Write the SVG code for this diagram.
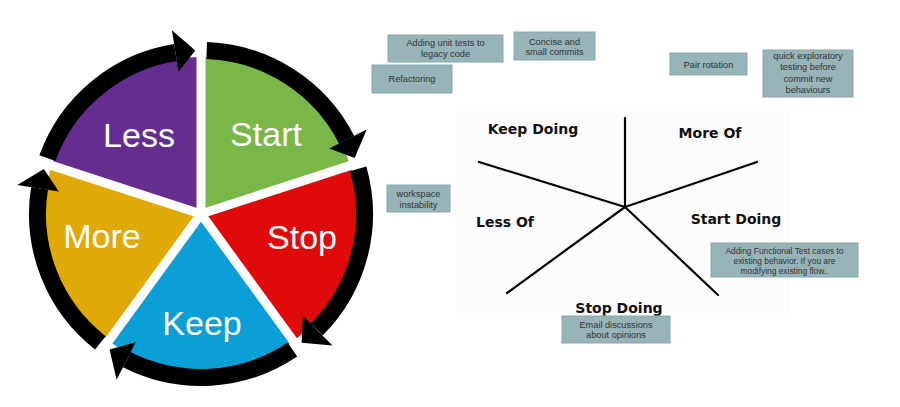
<svg xmlns="http://www.w3.org/2000/svg" width="900" height="407" viewBox="0 0 900 407">
<style>
.wl{font-family:"Liberation Sans",Arial,sans-serif;font-size:34px;fill:#fff;text-anchor:middle}
.sl{font-family:"DejaVu Sans",Verdana,sans-serif;font-weight:bold;font-size:14px;fill:#111;text-anchor:middle}
.nt{font-family:"Liberation Sans",Arial,sans-serif;font-size:9.2px;fill:#333;text-anchor:middle}
.nb{fill:#97b4b9;stroke:#8aa7ac;stroke-width:1}
.ring{fill:none;stroke:#000;stroke-width:17}
.gap{stroke:#fff;stroke-width:9}
.axis{stroke:#000;stroke-width:2.2;stroke-linecap:round}
</style>
<rect width="900" height="407" fill="#fff"/>
<g id="wheel">
  <g id="wedge-less"><path d="M201,214 L51.68,165.49 A157,157 0 0 1 201,57 Z" fill="#662d91"/><text class="wl" x="139" y="147">Less</text></g>
  <g id="wedge-start"><path d="M201,214 L201,57 A157,157 0 0 1 350.32,165.49 Z" fill="#7ab648"/><text class="wl" x="266" y="146">Start</text></g>
  <g id="wedge-stop"><path d="M201,214 L350.32,165.49 A157,157 0 0 1 293.28,341.01 Z" fill="#e00a0a"/><text class="wl" x="302" y="249">Stop</text></g>
  <g id="wedge-keep"><path d="M201,214 L293.28,341.01 A157,157 0 0 1 108.72,341.01 Z" fill="#0b9fd8"/><text class="wl" x="202" y="335">Keep</text></g>
  <g id="wedge-more"><path d="M201,214 L108.72,341.01 A157,157 0 0 1 51.68,165.49 Z" fill="#e1a906"/><text class="wl" x="102" y="248">More</text></g>
  <g id="gaps">
    <line class="gap" x1="201" y1="214" x2="201" y2="55"/>
    <line class="gap" x1="201" y1="214" x2="352.2" y2="164.9"/>
    <line class="gap" x1="201" y1="214" x2="294.5" y2="342.6"/>
    <line class="gap" x1="201" y1="214" x2="107.5" y2="342.6"/>
    <line class="gap" x1="201" y1="214" x2="49.8" y2="164.9"/>
  </g>
</g>
<g id="connectors">
  <path class="ring" d="M47.36,158.08 A163.5,163.5 0 0 1 175.43,52.51"/>
  <polygon points="171.9,30.3 195.29,50.6 178.5,71.8"/>
  <path class="ring" d="M206.71,50.6 A163.5,163.5 0 0 1 346.68,139.77"/>
  <polygon points="366.7,129.6 354.64,158.08 329.3,148.6"/>
  <path class="ring" d="M358.17,168.94 A163.5,163.5 0 0 1 316.61,329.61"/>
  <polygon points="332.5,345.5 301.67,342.84 302.8,315.8"/>
  <path class="ring" d="M292.43,349.54 A163.5,163.5 0 0 1 126.77,359.68"/>
  <polygon points="116.6,379.7 109.57,349.54 135.6,342.3"/>
  <path class="ring" d="M100.33,342.84 A163.5,163.5 0 0 1 39.51,188.43"/>
  <polygon points="17.3,184.9 43.83,168.94 58.8,191.5"/>
  <g id="star-axes">
    <rect x="456" y="106" width="334" height="212" fill="#fcfcfc"/>
    <line class="axis" x1="625" y1="207" x2="625" y2="118"/>
    <line class="axis" x1="625" y1="207" x2="479" y2="162"/>
    <line class="axis" x1="625" y1="207" x2="757" y2="162"/>
    <line class="axis" x1="625" y1="207" x2="507" y2="293"/>
    <line class="axis" x1="625" y1="207" x2="718" y2="295"/>
  </g>
</g>
<g id="label-keep-doing"><text class="sl" x="533" y="134">Keep Doing</text></g>
<g id="label-more-of"><text class="sl" x="710" y="138">More Of</text></g>
<g id="label-less-of"><text class="sl" x="505" y="227">Less Of</text></g>
<g id="label-start-doing"><text class="sl" x="736" y="224">Start Doing</text></g>
<g id="label-stop-doing"><text class="sl" x="619" y="313">Stop Doing</text></g>
<g id="note-unit-tests"><rect class="nb" x="388" y="35" width="115" height="27"/><text class="nt" x="445.5" y="46">Adding unit tests to</text><text class="nt" x="445.5" y="56.5">legacy code</text></g>
<g id="note-commits"><rect class="nb" x="514" y="32" width="81" height="28"/><text class="nt" x="554.5" y="44.5">Concise and</text><text class="nt" x="554.5" y="55">small commits</text></g>
<g id="note-refactoring"><rect class="nb" x="372" y="65" width="80" height="28"/><text class="nt" x="412" y="82">Refactoring</text></g>
<g id="note-pair"><rect class="nb" x="670" y="53" width="77" height="22"/><text class="nt" x="708.5" y="67.5">Pair rotation</text></g>
<g id="note-quick"><rect class="nb" x="763" y="50" width="90" height="47"/><text class="nt" x="808" y="59">quick exploratory</text><text class="nt" x="808" y="70">testing before</text><text class="nt" x="808" y="81.5">commit new</text><text class="nt" x="808" y="93">behaviours</text></g>
<g id="note-workspace"><rect class="nb" x="387" y="185" width="63" height="27"/><text class="nt" x="418.5" y="196.5">workspace</text><text class="nt" x="418.5" y="207.5">instability</text></g>
<g id="note-functional"><rect class="nb" x="711" y="243" width="147" height="34"/><text class="nt" x="784.5" y="254" style="font-size:8.4px">Adding Functional Test cases to</text><text class="nt" x="784.5" y="264" style="font-size:8.4px">existing behavior. If you are</text><text class="nt" x="784.5" y="273.5" style="font-size:8.4px">modifying existing flow..</text></g>
<g id="note-email"><rect class="nb" x="562" y="316" width="108" height="27"/><text class="nt" x="616" y="327.5">Email discussions</text><text class="nt" x="616" y="338">about opinions</text></g>
</svg>
